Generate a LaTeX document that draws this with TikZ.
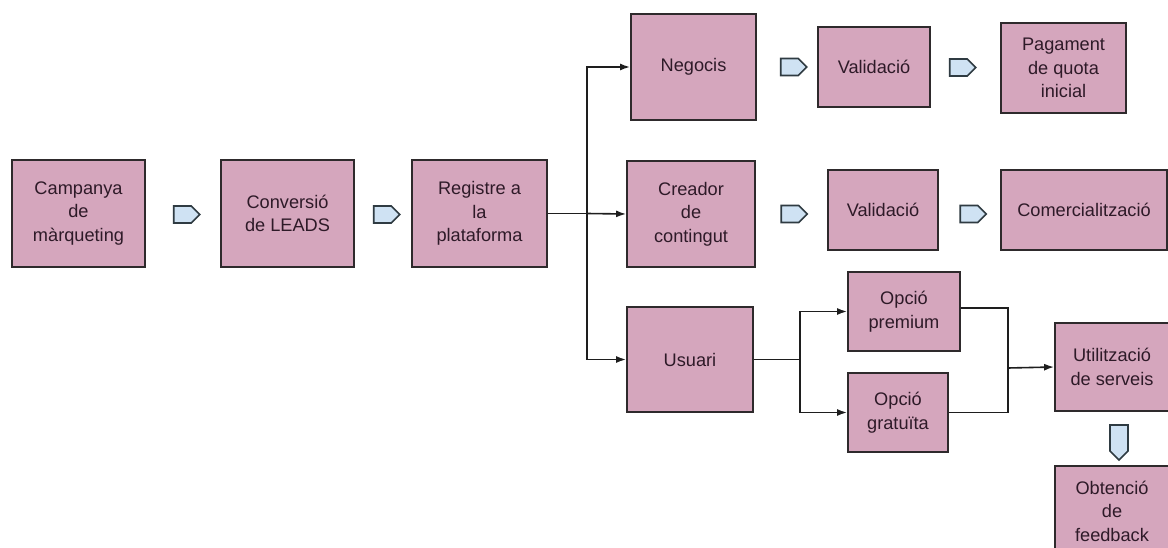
\documentclass[tikz,border=0pt]{standalone}
\usepackage{fontspec}
\setmainfont{Liberation Sans}
\usetikzlibrary{arrows.meta,shapes.symbols}
\definecolor{boxfill}{HTML}{D5A6BD}
\definecolor{boxline}{HTML}{2E2A2C}
\definecolor{txt}{HTML}{2E1A28}
\definecolor{tagfill}{HTML}{CFE2F3}
\definecolor{tagline}{HTML}{2F3B42}
\definecolor{connline}{HTML}{1E1E1E}
\begin{document}
\begin{tikzpicture}[x=1pt,y=-1pt,
  box/.style={draw=boxline, fill=boxfill, line width=1.8pt, align=center,
    inner sep=0pt, font=\fontsize{18.2}{23.5}\selectfont, text=txt},
  tag/.style={signal, signal to=east, draw=tagline, fill=tagfill, line width=1.6pt,
    inner sep=0pt, minimum width=26pt, minimum height=17pt},
  tagdown/.style={signal, signal to=south, draw=tagline, fill=tagfill, line width=1.6pt,
    inner sep=0pt, minimum width=18pt, minimum height=26pt},
  conn/.style={draw=connline, line width=1.6pt, -{Latex[length=10pt,width=7pt]}},
  plain/.style={draw=connline, line width=1.6pt}]
\clip (0,0) rectangle (1168,548);
\fill[white] (0,0) rectangle (1168,548);

\node[box, minimum width=133pt, minimum height=107pt] (camp) at (78.5,213.5) {Campanya\\de\\màrqueting};
\node[box, minimum width=133pt, minimum height=107pt] (conv) at (287.5,213.5) {Conversió\\de LEADS};
\node[box, minimum width=135pt, minimum height=107pt] (reg) at (479.5,213.5) {Registre a\\la\\plataforma};

\node[box, minimum width=125pt, minimum height=106pt] (neg) at (693.5,67) {Negocis};
\node[box, minimum width=112pt, minimum height=80pt] (val1) at (874,67) {Validació};
\node[box, minimum width=125pt, minimum height=90pt] (pag) at (1063.5,68) {Pagament\\de quota\\inicial};

\node[box, minimum width=128pt, minimum height=106pt] (crea) at (691,214) {Creador\\de\\contingut};
\node[box, minimum width=110pt, minimum height=80pt] (val2) at (883,210) {Validació};
\node[box, minimum width=166pt, minimum height=80pt] (com) at (1084,210) {Comercialització};

\node[box, minimum width=126pt, minimum height=105pt] (usu) at (690,359.5) {Usuari};
\node[box, minimum width=112pt, minimum height=79pt] (prem) at (904,311.5) {Opció\\premium};
\node[box, minimum width=100pt, minimum height=79pt] (grat) at (898,412.5) {Opció\\gratuïta};
\node[box, minimum width=114pt, minimum height=88pt] (util) at (1112,367) {Utilització\\de serveis};
\node[box, minimum width=114pt, minimum height=90pt] (obt) at (1112,511) {Obtenció\\de\\feedback};

\node[tag] (t1) at (182.5,214.5) {};
\node[tag] (t2) at (382.5,214.5) {};
\node[tag] (t3) at (789.5,67) {};
\node[tag] (t4) at (958.5,67.5) {};
\node[tag] (t5) at (790,214) {};
\node[tag] (t6) at (969,214) {};
\node[tagdown] (t7) at (1119,438) {};

\coordinate (s1) at (587,213.5);
\draw[plain] (reg.east) -- (s1);
\draw[conn] (s1) |- (neg.west);
\draw[conn] (s1) -- (crea.west);
\draw[conn] (s1) |- (usu.west);

\coordinate (s2) at (800,359.5);
\draw[plain] (usu.east) -- (s2);
\draw[conn] (s2) |- (prem.west);
\draw[conn] (s2) |- (grat.west);

\coordinate (m) at (1008,368);
\draw[plain] ([yshift=3.5pt]prem.east) -| (m);
\draw[plain] (grat.east) -| (m);
\draw[conn] (m) -- (util.west);
\end{tikzpicture}
\end{document}
